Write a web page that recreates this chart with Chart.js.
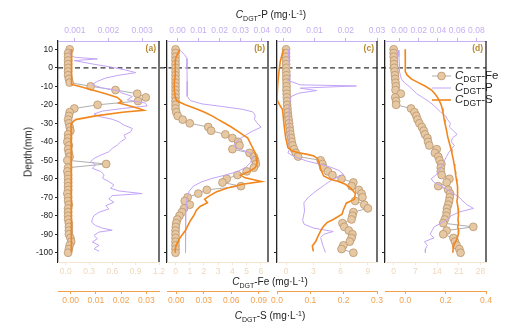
<!DOCTYPE html>
<html>
<head>
<meta charset="utf-8">
<title>DGT Fe, P and S profiles</title>
<script src="https://cdn.jsdelivr.net/npm/chart.js@4.4.1/dist/chart.umd.min.js"></script>
<style>
  html, body { margin: 0; padding: 0; background: #fff; }
  #fig { position: relative; width: 509px; height: 336px; overflow: hidden;
         font-family: "Liberation Sans", Arial, Helvetica, sans-serif; color: #222; }
  #fig canvas { position: absolute; left: 0; top: 0; width: 509px; height: 336px; }
  .lbl { position: absolute; white-space: nowrap; font-size: 10px; line-height: 12px; transform: translate(-50%, -50%); }
  .lbl i, .leg i { font-style: italic; }
  .sb { font-size: 7px; position: relative; top: 2.5px; }
  .sp { font-size: 7px; position: relative; top: -3.5px; }
  .tag { position: absolute; font-size: 8.5px; font-weight: bold; color: #b8892f; transform: translate(-100%, -50%); }
  .leg { position: absolute; white-space: nowrap; font-size: 11.5px; line-height: 13px; transform: translateY(-50%); }
  .leg .sb { font-size: 8.5px; top: 3px; }
  #ylab { position: absolute; left: 28px; top: 152px; font-size: 10px; white-space: nowrap;
          transform: translate(-50%, -50%) rotate(-90deg); }
</style>
</head>
<body>
<div id="fig">
  <canvas id="pa" width="509" height="336"></canvas>
  <canvas id="pb" width="509" height="336"></canvas>
  <canvas id="pc" width="509" height="336"></canvas>
  <canvas id="pd" width="509" height="336"></canvas>

  <div class="lbl" style="left:271px;top:15px"><i>C</i><span class="sb">DGT</span>-P (mg·L<span class="sp">-1</span>)</div>
  <div class="lbl" style="left:270px;top:282px"><i>C</i><span class="sb">DGT</span>-Fe (mg·L<span class="sp">-1</span>)</div>
  <div class="lbl" style="left:270px;top:316px"><i>C</i><span class="sb">DGT</span>-S (mg·L<span class="sp">-1</span>)</div>
  <div id="ylab">Depth(mm)</div>

  <div class="tag" style="left:156px;top:47.5px">(a)</div>
  <div class="tag" style="left:265px;top:47.5px">(b)</div>
  <div class="tag" style="left:374px;top:47.5px">(c)</div>
  <div class="tag" style="left:483px;top:47.5px">(d)</div>

  <div class="leg" style="left:455px;top:76px"><i>C</i><span class="sb">DGT</span>-Fe</div>
  <div class="leg" style="left:455px;top:88px"><i>C</i><span class="sb">DGT</span>-P</div>
  <div class="leg" style="left:455px;top:100px"><i>C</i><span class="sb">DGT</span>-S</div>
</div>

<script>
// ---- Depth grid of the Fe profiles (mm, positive = overlying water) ----
const DEPTH_FE = [10, 8, 6, 4, 2, 0, -2, -4, -6, -8, -10, -12, -14, -16, -18, -20, -22, -24, -26, -28,
  -30, -32, -34, -36, -38, -40, -42, -44, -46, -48, -50, -52, -54, -56, -58, -60, -62, -64, -66, -68,
  -70, -72, -74, -76, -78, -80, -82, -84, -86, -88, -90, -92, -94, -96, -98, -100];

// ---- Panel (a) ----
const FE_A = [0.05, 0.03, 0.03, 0.03, 0.03, 0.03, 0.03, 0.03, 0.04, 0.05, 0.32, 0.64, 0.92, 1.03, 0.93, 0.41,
  0.11, 0.05, 0.04, 0.03, 0.04, 0.05, 0.06, 0.03, 0.03, 0.02, 0.04, 0.03, 0.04, 0.05, 0.02, 0.52, 0.03, 0.02,
  0.03, 0.03, 0.03, 0.03, 0.03, 0.02, 0.03, 0.03, 0.04, 0.03, 0.03, 0.03, 0.03, 0.04, 0.04, 0.04, 0.04, 0.06,
  0.07, 0.05, 0.04, 0.03];
const S_A_DEPTH = [10, 6, 2, -2, -6, -9, -10, -12, -14, -16, -18, -19, -20, -22, -23, -24, -26, -28, -30,
  -34, -40, -46, -52, -58, -64, -70, -76, -82, -88, -94, -100];
const S_A = [0.0004, 0.0003, 0.0003, 0.0003, 0.0004, 0.0005, 0.0033, 0.0086, 0.0139, 0.0185, 0.0202, 0.019,
  0.0218, 0.027, 0.029, 0.0205, 0.0099, 0.002, 0.0002, 0.0003, 0.0002, 0.0003, 0.0002, 0.0003, 0.0002,
  0.0003, 0.0004, 0.0003, 0.0004, 0.0005, 0.0003];
const P_A_DEPTH = [9.3, 7.1, 5.7, 4.8, 3.9, 2.1, 0.3, -1.2, -2.6, -4.0, -5.5, -7.3, -9.1, -10.9, -12.3, -13.7,
  -15.5, -17.3, -19.1, -20.6, -22.0, -23.4, -24.9, -26.3, -27.8, -29.2, -31.0, -32.8, -34.6, -36.4, -38.2,
  -40.0, -41.8, -43.6, -45.4, -47.2, -49.0, -50.7, -52.5, -54.3, -56.1, -57.9, -59.7, -61.5, -63.3, -65.1,
  -66.6, -68.0, -69.1, -70.9, -72.7, -74.5, -76.3, -78.1, -79.9, -81.7, -83.5, -85.3, -86.7, -87.8, -88.8,
  -90.6, -92.4, -94.2, -96.0, -97.8, -99.2];
const P_A = [0.00083, 0.00085, 0.001, 0.00167, 0.00098, 0.00152, 0.00211, 0.00251, 0.00281, 0.00231, 0.00192,
  0.00167, 0.00152, 0.00182, 0.00226, 0.00241, 0.00271, 0.00256, 0.0031, 0.00315, 0.00241, 0.00182, 0.00157,
  0.00172, 0.00211, 0.00231, 0.00246, 0.00271, 0.00266, 0.00246, 0.00251, 0.00236, 0.00226, 0.00211, 0.00201,
  0.00177, 0.00157, 0.00147, 0.00162, 0.00152, 0.00177, 0.00187, 0.00182, 0.00201, 0.00216, 0.00206, 0.00231,
  0.003, 0.00211, 0.00201, 0.00216, 0.00192, 0.00201, 0.00172, 0.00157, 0.00152, 0.0015, 0.00162, 0.00182,
  0.00211, 0.00172, 0.00157, 0.00167, 0.00152, 0.00172, 0.00157, 0.00172];

// ---- Panel (b) ----
const FE_B = [0, 0, 0, 0, 0, 0, 0, 0, 0, 0, 0, 0, 0, 0, 0, 0, 0, 0.05, 0.15, 0.5, 1.0, 2.3, 2.5, 3.5, 4.0,
  4.4, 4.5, 4.0, 5.2, 5.5, 5.6, 5.65, 5.5, 5.0, 4.35, 3.6, 3.3, 4.6, 2.2, 1.6, 0.85, 0.65, 1.0, 0.6, 0.45,
  0.28, 0.12, 0.05, 0.02, 0, 0, 0, 0, 0, 0, 0];
const S_B_DEPTH = [10, 8, 6, 4, 0, -4, -8, -12, -16, -18, -20, -22, -24, -26, -28, -30, -32, -34, -36, -38,
  -40, -42, -44, -46, -48, -50, -52, -54, -56, -58, -59.5, -61.5, -63, -65, -67, -69, -71, -73, -75, -77,
  -80, -83, -86, -88, -90, -92, -94, -96, -98, -100];
const S_B = [0.004, 0.002, 0, -0.001, -0.001, -0.001, -0.002, -0.002, -0.001, 0.001, 0.01, 0.021, 0.031,
  0.039, 0.046, 0.053, 0.06, 0.066, 0.072, 0.078, 0.08, 0.082, 0.084, 0.086, 0.087, 0.088, 0.088, 0.086,
  0.08, 0.07, 0.075, 0.093, 0.072, 0.056, 0.044, 0.037, 0.031, 0.034, 0.026, 0.022, 0.019, 0.015, 0.012,
  0.01, 0.007, 0.004, 0.002, 0, -0.001, -0.001];
const P_B_DEPTH = [9.8, 7.1, 5, 0, -7.3, -15.4, -17.7, -19.5, -20.9, -22.4, -23.8, -25.6, -27.9, -29.8, -32.1,
  -34.2, -36, -38.2, -40.5, -42.3, -44.1, -46, -48.6, -51.3, -54, -56.2, -58, -59.8, -61.6, -63.9, -66.6,
  -70.2, -77.4, -84.6, -91.8, -99.9];
const P_B = [0.0008, 0.0034, 0.0045, 0.0045, 0.0046, 0.0046, 0.0061, 0.0116, 0.0211, 0.0306, 0.0357, 0.0369,
  0.0366, 0.0378, 0.0397, 0.0357, 0.033, 0.0298, 0.0274, 0.0266, 0.0298, 0.0346, 0.0357, 0.0346, 0.0322,
  0.0282, 0.0227, 0.0164, 0.0116, 0.0076, 0.0056, 0.0045, 0.004, 0.0037, 0.0037, 0.004];

// ---- Panel (c) ----
const FE_C = [0, 0, 0, 0, 0, 0.02, 0.02, 0.03, 0.03, 0.04, 0.05, 0.05, 0.06, 0.08, 0.1, 0.12, 0.15, 0.18,
  0.22, 0.28, 0.33, 0.38, 0.43, 0.48, 0.55, 0.62, 0.72, 0.88, 1.07, 1.32, 3.8, 4.0, 4.1, 4.6, 5.1, 6.1, 7.4,
  7.2, 8.0, 8.3, 8.4, 7.6, 8.6, 9.0, 7.4, 7.3, 7.2, 6.2, 6.4, 6.9, 7.3, 7.2, 7.0, 6.3, 6.1, 7.4];
const S_C_DEPTH = [10, 8, 3.5, -1.9, -9.1, -17.2, -19.8, -22.6, -25.2, -30.6, -37.8, -43.2, -45, -45.9, -46.8,
  -47.7, -49, -51.3, -54.9, -58.5, -60.3, -61.5, -63, -65.2, -68, -71.1, -73.2, -76.5, -79.2, -81.9, -83.7,
  -86, -88.2, -91.8, -93.9, -96.3, -99.3];
const S_C = [0.02, 0.0166, 0.0098, 0.006, 0.002, 0, 0.0069, 0.0166, 0.018, 0.021, 0.026, 0.033, 0.0465,
  0.066, 0.091, 0.111, 0.121, 0.126, 0.131, 0.14, 0.16, 0.185, 0.205, 0.222, 0.235, 0.232, 0.208, 0.2,
  0.195, 0.17, 0.15, 0.138, 0.131, 0.121, 0.116, 0.106, 0.109];
const P_C_DEPTH = [10, 6, 2, -2, -5, -6.6, -9.2, -9.8, -11, -12.3, -13.7, -15.5, -20, -26, -32, -38, -44,
  -46, -48, -50.5, -52.2, -53.7, -55.5, -57.6, -58.8, -60.3, -63, -66.6, -70, -73, -77.4, -82.4, -84.6,
  -86.7, -88.5, -90, -91.8, -95.3, -99.8];
const P_C = [0.0017, 0.0018, 0.0019, 0.002, 0.0022, 0.0012, 0.0054, 0.0234, 0.0054, 0.0107, 0.005, 0.0025,
  0.0019, 0.0019, 0.0019, 0.002, 0.0021, 0.0015, 0.0035, 0.0077, 0.012, 0.0151, 0.0178, 0.0193, 0.018,
  0.0158, 0.0135, 0.0105, 0.008, 0.0066, 0.0068, 0.0062, 0.0067, 0.0098, 0.016, 0.013, 0.012, 0.0125, 0.0135];

// ---- Panel (d) ----
const FE_D = [0, 0, 0, 0.1, 0.1, 0.2, 0.3, 0.4, 0.5, 0.6, 0.7, 0.6, 2.3, 0.5, 0.8, 0.8, 5.6, 6.7, 7.3, 7.7,
  8.3, 9.1, 9.7, 10.1, 10.9, 11.1, 11.5, 13.9, 13.3, 14.4, 14.8, 15.4, 15.2, 15.2, 15.5, 18.0, 17.1, 14.4,
  17.6, 18.2, 18.1, 17.9, 17.6, 17.2, 17.1, 17.0, 16.5, 16.0, 25.7, 17.1, 16.0, 19.3, 19.8, 20.3, 21.2, 21.6];
const S_D_DEPTH = [10, 6, 2, 0, -2, -4, -6, -8, -10, -12, -14, -16, -18, -20, -22, -24, -26, -28, -30, -32,
  -34, -36, -38, -40, -42, -44, -46, -48, -50, -52, -54, -56, -58, -60, -62, -64, -66, -68, -70, -72, -74,
  -76, -78, -80, -82, -84, -86, -88, -90, -92, -94, -96, -98, -100];
const S_D = [0, 0, 0, 0, 0.002, 0.01, 0.03, 0.065, 0.1, 0.13, 0.147, 0.16, 0.17, 0.178, 0.183, 0.187, 0.19,
  0.193, 0.197, 0.201, 0.205, 0.208, 0.212, 0.217, 0.222, 0.227, 0.231, 0.235, 0.239, 0.242, 0.245, 0.248,
  0.25, 0.253, 0.256, 0.259, 0.261, 0.259, 0.258, 0.256, 0.259, 0.262, 0.263, 0.264, 0.261, 0.264, 0.26,
  0.265, 0.263, 0.258, 0.25, 0.24, 0.237, 0.236];
const P_D_DEPTH = [9.5, 6, 2, -2, -4, -6, -8, -10, -12, -14, -16, -18, -20, -22, -24, -26, -28, -30, -32, -34,
  -36, -38, -40, -42, -44, -46, -48, -50, -52, -54, -56, -58, -60, -62, -64, -66, -68, -70, -72, -74, -76,
  -78, -80, -82, -84, -86, -88, -90, -92, -94, -96, -98, -100];
const P_D = [-0.001, -0.0005, 0, 0, 0.001, 0.002, 0.005, 0.01, 0.014, 0.018, 0.024, 0.03, 0.035, 0.039, 0.043,
  0.048, 0.05, 0.053, 0.052, 0.056, 0.06, 0.055, 0.054, 0.057, 0.054, 0.051, 0.049, 0.047, 0.045, 0.043,
  0.041, 0.038, 0.033, 0.036, 0.044, 0.05, 0.056, 0.062, 0.066, 0.07, 0.077, 0.062, 0.054, 0.05, 0.043,
  0.036, 0.034, 0.032, 0.036, 0.026, 0.029, 0.027, 0.027];

// ---- Tick labels ----
const DEPTH_TICKS_A = [10, 0, -10, -20, -30, -40, -50, -60, -70, -80, -90, -100];
const DEPTH_TICKS = [0, -20, -40, -60, -80, -100];
const FE_TICKS_A = ['0.0', '0.3', '0.6', '0.9', '1.2'];
const FE_TICKS_B = ['0', '1', '2', '3', '4', '5', '6'];
const FE_TICKS_C = ['0', '3', '6', '9'];
const FE_TICKS_D = ['0', '7', '14', '21', '28'];
const S_TICKS_A = ['0.00', '0.01', '0.02', '0.03'];
const S_TICKS_B = ['0.00', '0.03', '0.06', '0.09'];
const S_TICKS_C = ['0.0', '0.1', '0.2', '0.3'];
const S_TICKS_D = ['0.0', '0.2', '0.4'];
const P_TICKS_A = ['0.001', '0.002', '0.003'];
const P_TICKS_B = ['0.00', '0.01', '0.02', '0.03', '0.04'];
const P_TICKS_C = ['0.00', '0.01', '0.02', '0.03'];
const P_TICKS_D = ['0.00', '0.02', '0.04', '0.06', '0.08'];

// ---- Styling ----
const FONT = '"Liberation Sans", Arial, Helvetica, sans-serif';
const INK = '#222222';
const FE_AXIS = '#efd6b8';
const FE_AXIS_LINE = '#f4e4d0';
const S_AXIS = '#f2a24e';
const P_AXIS = '#c6aff3';
const FE_LINE = '#9a9a9a';
const FE_FILL = '#e6c8a2';
const FE_EDGE = '#b99670';
const P_LINE = '#c3a4f6';
const S_LINE = '#f2861c';

function pts(depths, vals) {
  return depths.map((d, i) => ({ x: vals[i], y: d }));
}

function xAxis(position, weight, range, labels, textColor, lineColor, height) {
  return {
    type: 'linear', position, weight, min: range[0], max: range[1],
    afterBuildTicks: s => { s.ticks = labels.map(t => ({ value: parseFloat(t) })); },
    afterFit: s => { s.height = height; },
    ticks: {
      callback: (v, i) => labels[i], color: textColor, font: { size: 8.5, family: FONT },
      padding: 2, autoSkip: false, maxRotation: 0, minRotation: 0
    },
    grid: { display: true, drawOnChartArea: false, drawTicks: true, tickLength: 3, color: lineColor, tickColor: lineColor },
    border: { display: true, color: lineColor, width: 1 }
  };
}

// Right frame line, shared zero-depth dashed line, and legend keys
const framePlugin = {
  id: 'frame',
  beforeDatasetsDraw(chart, args, opts) {
    if (!opts.zeroTo) return;
    const ctx = chart.ctx;
    const y = chart.scales.y.getPixelForValue(0);
    ctx.save();
    ctx.setLineDash([5, 3.5]);
    ctx.strokeStyle = '#333';
    ctx.lineWidth = 1.3;
    ctx.beginPath();
    ctx.moveTo(chart.chartArea.left, y);
    ctx.lineTo(opts.zeroTo, y);
    ctx.stroke();
    ctx.restore();
  },
  afterDraw(chart, args, opts) {
    const { ctx, chartArea: a } = chart;
    ctx.save();
    ctx.strokeStyle = INK;
    ctx.lineWidth = 1.3;
    ctx.beginPath();
    ctx.moveTo(a.right, a.top);
    ctx.lineTo(a.right, a.bottom);
    ctx.stroke();
    if (opts.legend) {
      const x0 = a.left + 47, x1 = a.left + 66, xm = (x0 + x1) / 2;
      const rows = [a.top + 35, a.top + 47, a.top + 59];
      chart.data.datasets.forEach((ds, i) => {
        ctx.strokeStyle = ds.borderColor;
        ctx.lineWidth = ds.borderWidth;
        ctx.beginPath();
        ctx.moveTo(x0, rows[i]);
        ctx.lineTo(x1, rows[i]);
        ctx.stroke();
        if (ds.pointRadius > 0) {
          ctx.fillStyle = ds.pointBackgroundColor;
          ctx.strokeStyle = ds.pointBorderColor;
          ctx.lineWidth = ds.pointBorderWidth;
          ctx.beginPath();
          ctx.arc(xm, rows[i], ds.pointRadius, 0, Math.PI * 2);
          ctx.fill();
          ctx.stroke();
        }
      });
    }
    ctx.restore();
  }
};

const PANELS = [
  { id: 'pa', left: 58, right: 159, fe: FE_A, sDepth: S_A_DEPTH, s: S_A, pDepth: P_A_DEPTH, p: P_A,
    feRange: [-0.1, 1.2], sRange: [-0.005, 0.035], pRange: [0.0005, 0.0035],
    feTicks: FE_TICKS_A, sTicks: S_TICKS_A, pTicks: P_TICKS_A, yTicks: DEPTH_TICKS_A, yLabels: true, zeroTo: 486 },
  { id: 'pb', left: 167, right: 268, fe: FE_B, sDepth: S_B_DEPTH, s: S_B, pDepth: P_B_DEPTH, p: P_B,
    feRange: [-0.6, 6.5], sRange: [-0.01, 0.1], pRange: [-0.005, 0.043],
    feTicks: FE_TICKS_B, sTicks: S_TICKS_B, pTicks: P_TICKS_B, yTicks: DEPTH_TICKS, yLabels: false },
  { id: 'pc', left: 277, right: 377, fe: FE_C, sDepth: S_C_DEPTH, s: S_C, pDepth: P_C_DEPTH, p: P_C,
    feRange: [-1, 10], sRange: [0, 0.3], pRange: [-0.002, 0.03],
    feTicks: FE_TICKS_C, sTicks: S_TICKS_C, pTicks: P_TICKS_C, yTicks: DEPTH_TICKS, yLabels: false },
  { id: 'pd', left: 385, right: 486, fe: FE_D, sDepth: S_D_DEPTH, s: S_D, pDepth: P_D_DEPTH, p: P_D,
    feRange: [-2.8, 29.8], sRange: [-0.1, 0.4], pRange: [-0.015, 0.09],
    feTicks: FE_TICKS_D, sTicks: S_TICKS_D, pTicks: P_TICKS_D, yTicks: DEPTH_TICKS, yLabels: false, legend: true }
];

const Y_AXIS_W = 30;

PANELS.forEach(cfg => {
  new Chart(document.getElementById(cfg.id), {
    type: 'line',
    data: {
      datasets: [
        { label: 'CDGT-Fe', data: pts(DEPTH_FE, cfg.fe), xAxisID: 'xFe', yAxisID: 'y',
          borderColor: FE_LINE, borderWidth: 0.8, pointRadius: 3.9, pointBackgroundColor: FE_FILL,
          pointBorderColor: FE_EDGE, pointBorderWidth: 0.8, tension: 0, order: 3 },
        { label: 'CDGT-P', data: pts(cfg.pDepth, cfg.p), xAxisID: 'xP', yAxisID: 'y',
          borderColor: P_LINE, borderWidth: 1, pointRadius: 0, tension: 0, order: 2 },
        { label: 'CDGT-S', data: pts(cfg.sDepth, cfg.s), xAxisID: 'xS', yAxisID: 'y',
          borderColor: S_LINE, borderWidth: 1.6, pointRadius: 0, tension: 0, order: 1 }
      ]
    },
    options: {
      responsive: false,
      animation: false,
      devicePixelRatio: 1,
      events: [],
      layout: { padding: { left: cfg.left - Y_AXIS_W, right: 509 - cfg.right, top: 0, bottom: 25 } },
      plugins: {
        legend: { display: false },
        tooltip: { enabled: false },
        frame: { zeroTo: cfg.zeroTo || 0, legend: !!cfg.legend }
      },
      scales: {
        y: {
          type: 'linear', position: 'left', min: -105, max: 14.5,
          afterBuildTicks: s => { s.ticks = cfg.yTicks.map(v => ({ value: v })); },
          afterFit: s => { s.width = Y_AXIS_W; },
          ticks: { display: cfg.yLabels, color: INK, font: { size: 8.5, family: FONT }, padding: 2, autoSkip: false },
          grid: { display: true, drawOnChartArea: false, drawTicks: true, tickLength: 3, color: INK, tickColor: INK },
          border: { display: true, color: INK, width: 1.3 }
        },
        xP: xAxis('top', 0, cfg.pRange, cfg.pTicks, P_AXIS, P_AXIS, 41),
        xFe: xAxis('bottom', 0, cfg.feRange, cfg.feTicks, FE_AXIS, FE_AXIS_LINE, 29),
        xS: xAxis('bottom', 1, cfg.sRange, cfg.sTicks, S_AXIS, S_AXIS, 20)
      }
    },
    plugins: [framePlugin]
  });
});
</script>
</body>
</html>
